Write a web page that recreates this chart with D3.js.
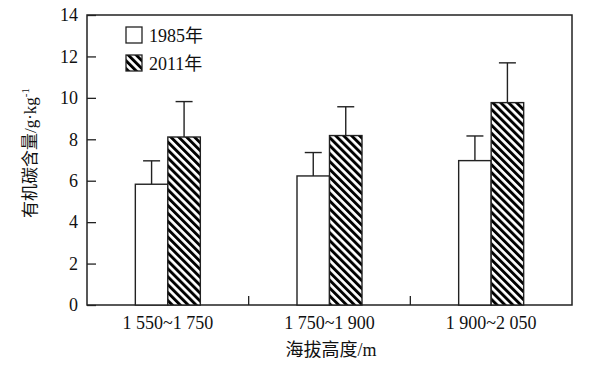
<!DOCTYPE html>
<html><head><meta charset="utf-8">
<script src="https://cdn.jsdelivr.net/npm/d3@7"></script>
<style>body{margin:0;background:#fff}svg{display:block}</style>
</head><body>
<svg id="c" width="600" height="367"></svg>
<script>
const categories = ["1 550~1 750", "1 750~1 900", "1 900~2 050"];
const seriesNames = ["1985年", "2011年"];
const values1985 = [5.83, 6.23, 6.97];
const errors1985 = [1.13, 1.13, 1.19];
const values2011 = [8.11, 8.18, 9.77];
const errors2011 = [1.71, 1.39, 1.92];
const yTicks = [0, 2, 4, 6, 8, 10, 12, 14];

const svg = d3.select("#c");
const m = {l: 87, r: 572, t: 15, b: 305};
const font = "'Liberation Serif','Noto Sans CJK SC',serif";
const ink = "#222";
const fs = 18;

const defs = svg.append("defs");
const pat = defs.append("pattern").attr("id","hatch").attr("patternUnits","userSpaceOnUse")
  .attr("width",5.6).attr("height",5.6).attr("patternTransform","rotate(-45)");
pat.append("rect").attr("width",5.6).attr("height",5.6).attr("fill","#fff");
pat.append("rect").attr("x",0).attr("y",0).attr("width",2.9).attr("height",5.6).attr("fill","#000");

const x0 = d3.scaleBand().domain(categories).range([m.l, m.r]).padding(0);
const y = d3.scaleLinear().domain([0,14]).range([m.b, m.t]);
const barW = 32.5;

// frame
svg.append("rect").attr("x",m.l).attr("y",m.t).attr("width",m.r-m.l).attr("height",m.b-m.t)
  .attr("fill","none").attr("stroke",ink).attr("stroke-width",1.5);

// y axis
const yAxis = d3.axisLeft(y).tickValues(yTicks).tickSizeInner(-9).tickSizeOuter(0).tickPadding(9);
const gy = svg.append("g").attr("transform",`translate(${m.l},0)`).call(yAxis);
gy.select(".domain").remove();
gy.selectAll(".tick line").attr("stroke",ink).attr("stroke-width",1.3);
gy.selectAll(".tick text").attr("font-family",font).attr("font-size",fs).attr("fill","#111");

// x boundary ticks
const bounds = categories.slice(1).map(c => x0(c));
svg.selectAll(".xb").data(bounds).enter().append("line")
  .attr("x1",d=>d).attr("x2",d=>d).attr("y1",m.b).attr("y2",m.b-9)
  .attr("stroke",ink).attr("stroke-width",1.3);

// x labels
svg.selectAll(".xl").data(categories).enter().append("text")
  .attr("x",d=>x0(d)+x0.bandwidth()/2).attr("y",329)
  .attr("text-anchor","middle").attr("font-family",font).attr("font-size",fs).attr("fill","#111")
  .text(d=>d);

// bars
const data = categories.map((c,i)=>({c, v1:values1985[i], e1:errors1985[i], v2:values2011[i], e2:errors2011[i]}));
data.forEach(d=>{
  const cx = x0(d.c)+x0.bandwidth()/2;
  const specs = [{x:cx-barW, v:d.v1, e:d.e1, fill:"#fff"},{x:cx, v:d.v2, e:d.e2, fill:"url(#hatch)"}];
  specs.forEach(s=>{
    const bc = s.x + barW/2;
    svg.append("line").attr("x1",bc).attr("x2",bc).attr("y1",y(s.v)).attr("y2",y(s.v+s.e))
      .attr("stroke",ink).attr("stroke-width",1.4);
    svg.append("line").attr("x1",bc-8.5).attr("x2",bc+8.5).attr("y1",y(s.v+s.e)).attr("y2",y(s.v+s.e))
      .attr("stroke",ink).attr("stroke-width",1.4);
    svg.append("rect").attr("x",s.x).attr("y",y(s.v)).attr("width",barW).attr("height",y(0)-y(s.v))
      .attr("fill",s.fill).attr("stroke",ink).attr("stroke-width",1.4);
  });
});

// legend
const lg = [{n:seriesNames[0], fill:"#fff", y:27},{n:seriesNames[1], fill:"url(#hatch)", y:55}];
lg.forEach(l=>{
  svg.append("rect").attr("x",126).attr("y",l.y).attr("width",16).attr("height",16)
    .attr("fill",l.fill).attr("stroke",ink).attr("stroke-width",1.3);
  svg.append("text").attr("x",149).attr("y",l.y+15).attr("font-family",font).attr("font-size",fs)
    .attr("fill","#111").text(l.n);
});

// axis titles
svg.append("text").attr("x",331).attr("y",356).attr("text-anchor","middle")
  .attr("font-family",font).attr("font-size",fs).attr("fill","#111").text("海拔高度/m");
const yt = svg.append("text").attr("transform","translate(36,153) rotate(-90)").attr("text-anchor","middle")
  .attr("font-family",font).attr("font-size",17).attr("fill","#111");
yt.append("tspan").text("有机碳含量/g·kg");
yt.append("tspan").attr("dy",-7).attr("font-size",11).text("-1");
</script>
</body></html>
